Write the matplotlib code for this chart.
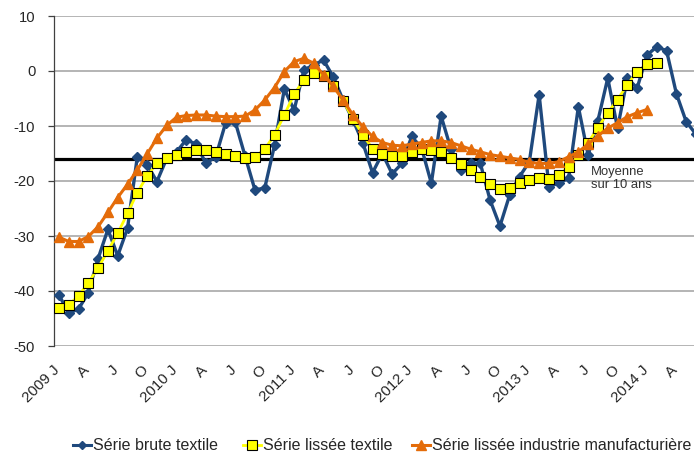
import matplotlib
matplotlib.use('Agg')
import matplotlib.pyplot as plt
from matplotlib import font_manager
from matplotlib.lines import Line2D
from matplotlib.transforms import ScaledTranslation

# ---------------- data ----------------
# monthly series from January 2009 (index 0) onwards
serie_brute_textile = [
    -40.7, -44.0, -43.3, -40.3, -34.1, -28.8, -33.6, -28.6, -15.6, -17.0,
    -20.1, -15.9, -14.7, -12.5, -13.3, -16.8, -15.6, -9.5, -9.3, -15.5,
    -21.6, -21.3, -13.5, -3.3, -7.1, 0.2, 1.1, 2.0, -1.1, -5.3,
    -8.9, -13.0, -18.5, -15.0, -18.7, -16.8, -11.9, -14.0, -20.4, -8.2,
    -14.2, -18.0, -16.8, -16.8, -23.5, -28.2, -22.5, -19.2, -16.5, -4.3,
    -21.0, -20.4, -19.5, -6.5, -15.3, -9.0, -1.3, -10.4, -1.3, -3.1,
    2.9, 4.4, 3.7, -4.1, -9.2, -11.5,
]
serie_lissee_textile = [
    -43.0, -42.5, -40.9, -38.5, -35.8, -32.7, -29.5, -25.9, -22.1, -19.1,
    -16.8, -15.8, -15.3, -14.8, -14.4, -14.4, -14.8, -15.0, -15.5, -15.9,
    -15.6, -14.2, -11.6, -8.0, -4.2, -1.6, -0.4, -0.9, -2.7, -5.4,
    -8.7, -11.6, -14.1, -15.0, -15.4, -15.4, -14.7, -14.2, -14.4, -14.8,
    -15.9, -16.9, -18.0, -19.3, -20.6, -21.5, -21.3, -20.4, -19.8, -19.5,
    -19.6, -18.9, -17.4, -15.3, -13.0, -10.3, -7.6, -5.2, -2.5, -0.1,
    1.2, 1.4,
]
serie_lissee_industrie = [
    -30.2, -31.0, -31.0, -30.1, -28.3, -25.7, -23.0, -20.6, -18.0, -15.1,
    -12.2, -9.9, -8.4, -8.1, -8.0, -8.0, -8.2, -8.3, -8.3, -8.2,
    -7.1, -5.3, -3.0, -0.1, 1.7, 2.3, 1.4, -0.7, -2.8, -5.3,
    -8.0, -10.1, -11.9, -13.0, -13.5, -13.6, -13.3, -13.0, -12.7, -12.7,
    -13.0, -13.6, -14.2, -14.7, -15.2, -15.5, -15.8, -16.1, -16.6, -16.8,
    -16.8, -16.5, -15.6, -14.7, -13.3, -11.8, -10.4, -9.4, -8.3, -7.6,
    -7.0,
]
moyenne_10_ans = -16.0

x_tick_labels = ["2009 J", "A", "J", "O", "2010 J", "A", "J", "O",
                 "2011 J", "A", "J", "O", "2012 J", "A", "J", "O",
                 "2013 J", "A", "J", "O", "2014 J", "A"]
y_ticks = [10, 0, -10, -20, -30, -40, -50]

series_labels = ["Série brute textile", "Série lissée textile",
                 "Série lissée industrie manufacturière"]

# ---------------- fonts ----------------
names = {f.name for f in font_manager.fontManager.ttflist}
if 'Liberation Sans Narrow' in names:
    FONT, k = 'Liberation Sans Narrow', 1.0
else:
    FONT, k = 'Liberation Sans', 0.85
plt.rcParams['font.family'] = [FONT, 'DejaVu Sans']

TXT = '#262626'
BLUE = '#1F497D'
YELLOW = '#FFFF00'
ORANGE = '#E46C0A'
GRID = '#A0A0A0'

W, H = 694, 459
fig = plt.figure(figsize=(W / 100, H / 100), dpi=100)
ax = fig.add_axes([54 / W, (H - 346) / H, (W - 54) / W, 330 / H])

x_b = list(range(len(serie_brute_textile)))
x_y = list(range(len(serie_lissee_textile)))
x_o = list(range(len(serie_lissee_industrie)))

ax.set_ylim(-50, 10)
ax.set_xlim(-0.5, 64.8)

for v in y_ticks:
    ax.axhline(v, color=GRID, lw=1.1, zorder=0)
ax.axhline(moyenne_10_ans, color='black', lw=2.3, zorder=1)

ax.plot(x_b, serie_brute_textile, color=BLUE, lw=2.4, marker='D', ms=5.2,
        mfc=BLUE, mec=BLUE, zorder=3)
ax.plot(x_y, serie_lissee_textile, color=YELLOW, lw=2.0, marker='s', ms=7.0,
        mfc=YELLOW, mec='black', mew=0.8, zorder=4)
ax.plot(x_o, serie_lissee_industrie, color=ORANGE, lw=2.2, marker='^', ms=7.5,
        mfc=ORANGE, mec=ORANGE, zorder=5)

ax.text(54.3, -17.3, "Moyenne\nsur 10 ans", fontsize=11 * k, color='#333333',
        va='top', ha='left', linespacing=1.05, zorder=6)

# axes styling
for s in ['top', 'right', 'bottom']:
    ax.spines[s].set_visible(False)
ax.spines['left'].set_color('#404040')
ax.spines['left'].set_linewidth(0.9)
ax.set_yticks(y_ticks)
ax.set_yticklabels([str(v) for v in y_ticks])
ax.tick_params(axis='y', direction='out', length=4.5, width=0.9, color='#404040',
               pad=9.0, labelsize=12.5 * k, labelcolor=TXT)

ax.set_xticks(range(0, 3 * len(x_tick_labels), 3))
ax.set_xticklabels(x_tick_labels, rotation=45, ha='right', va='top',
                   rotation_mode='anchor')
ax.tick_params(axis='x', length=0, pad=12.0, labelsize=12.8 * k, labelcolor=TXT)
off = ScaledTranslation(-6 / 100, 0, fig.dpi_scale_trans)
for lab in ax.get_xticklabels():
    lab.set_transform(lab.get_transform() + off)

# legend: three entries placed along the bottom
handles = [
    Line2D([], [], color=BLUE, lw=2.2, marker='D', ms=4.5, mfc=BLUE, mec=BLUE),
    Line2D([], [], color=YELLOW, lw=2.0, marker='s', ms=6.5, mfc=YELLOW,
           mec='black', mew=0.8),
    Line2D([], [], color=ORANGE, lw=2.2, marker='^', ms=7, mfc=ORANGE, mec=ORANGE),
]
leg_x = [73, 243, 412]
for h, lab, x0 in zip(handles, series_labels, leg_x):
    lg = fig.legend(handles=[h], labels=[lab], loc='center left',
                    bbox_to_anchor=(x0 / W, (H - 446) / H), frameon=False,
                    fontsize=13.6 * k, handlelength=1.1, handletextpad=0.15,
                    borderpad=0, borderaxespad=0, labelcolor=TXT)

fig.savefig('out.png', dpi=100)
